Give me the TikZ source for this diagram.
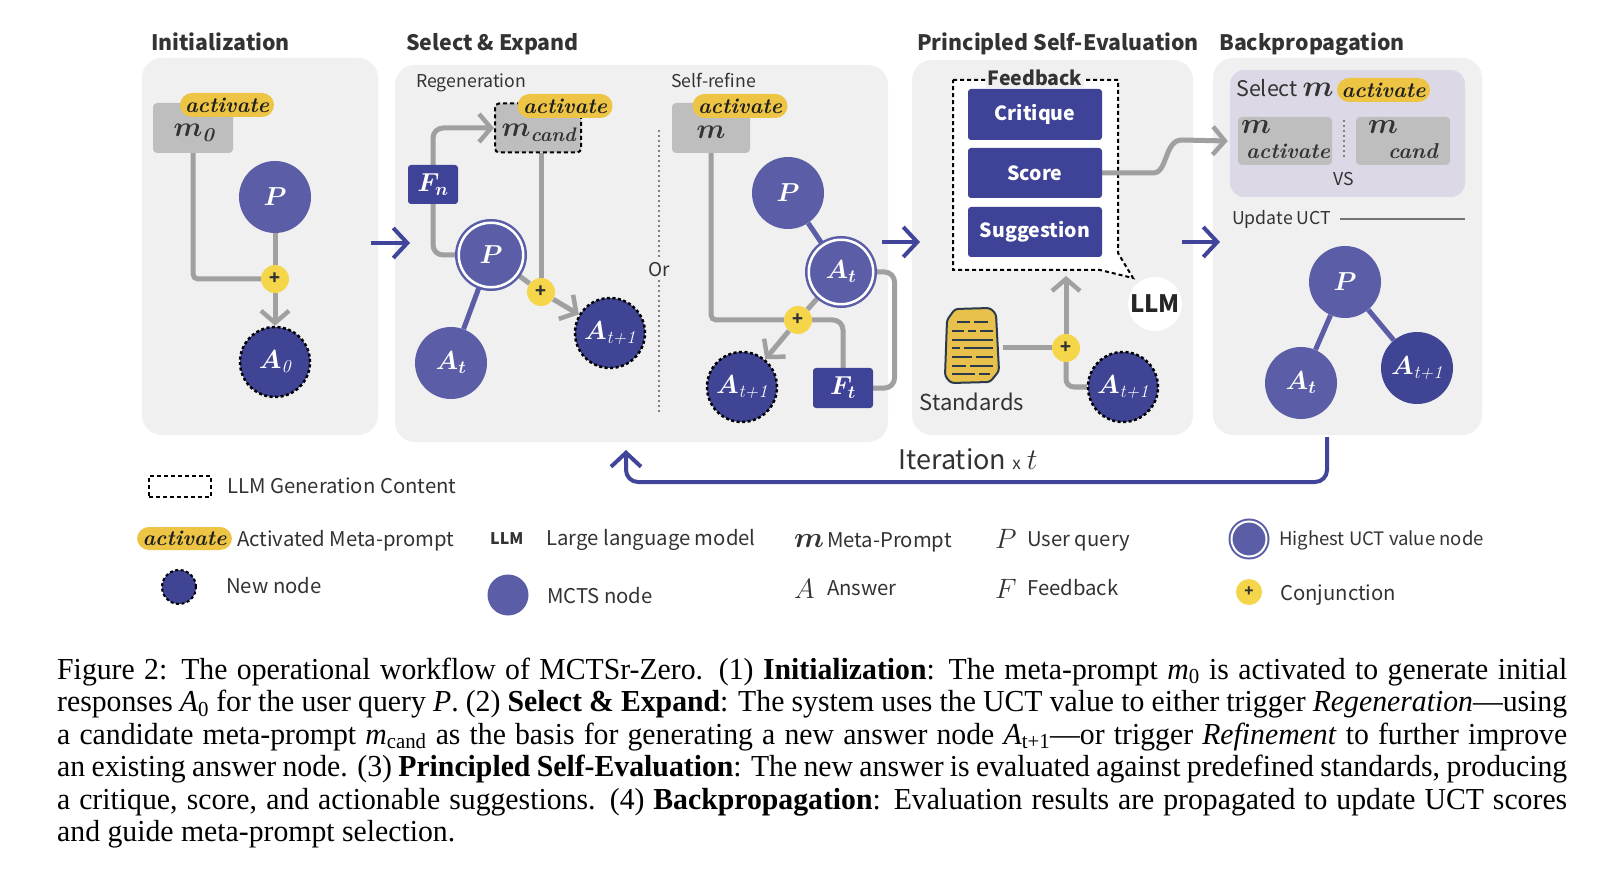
\RequirePackage{fix-cm}
\documentclass[tikz,border=0pt]{standalone}
\usepackage{amsmath}
\usepackage{fontspec}
\newfontfamily\ui{Noto Sans CJK SC}
\newfontfamily\capfont[FakeStretch=0.975]{Liberation Serif}
\usetikzlibrary{arrows.meta}
\pgfdeclarelayer{bg}\pgfdeclarelayer{conn}\pgfsetlayers{bg,conn,main}
\newcommand\fsz[1]{\fontsize{#1}{#1}\selectfont}
\newcommand\sbs[1]{\textsubscript{#1}}
\newcommand\bisub[1]{\text{\bfseries\itshape #1}}
\definecolor{panelbg}{HTML}{F0F0F0}
\definecolor{nodeblue}{HTML}{5B5EA6}
\definecolor{newblue}{HTML}{3F4494}
\definecolor{fbblue}{HTML}{3F4397}
\definecolor{grayline}{HTML}{A0A0A0}
\definecolor{mgray}{HTML}{BEBEBE}
\definecolor{pillY}{HTML}{EDC443}
\definecolor{plusY}{HTML}{F5D54A}
\definecolor{lav}{HTML}{DCD8E5}
\definecolor{txt}{HTML}{333333}
\definecolor{navy}{HTML}{40459A}
\definecolor{stdY}{HTML}{E8C14C}
\definecolor{stdD}{HTML}{2B3A4C}
\tikzset{
  panel/.style={fill=panelbg, rounded corners=20pt},
  mcts/.style={circle, fill=nodeblue, minimum size=72pt, inner sep=0pt, text=white, font=\fsz{26}\boldmath},
  best/.style={circle, fill=nodeblue, draw=nodeblue, double=white, double distance=2.5pt, line width=2.5pt, minimum size=64.5pt, inner sep=0pt, text=white, font=\fsz{26}\boldmath},
  newnode/.style={circle, fill=newblue, draw=black, dash pattern=on 3pt off 2.5pt, line width=2.5pt, minimum size=70pt, inner sep=0pt, text=white, font=\fsz{26}\boldmath},
  mbox/.style={rectangle, fill=mgray, rounded corners=4pt, inner sep=0pt},
  mlabel/.style={inner sep=0pt, anchor=base, text=txt, font=\fsz{28}\boldmath},
  pill/.style={rectangle, fill=pillY, rounded corners=12pt, minimum width=95pt, minimum height=24pt, inner sep=0pt, text=black!88, font=\fsz{21.5}\bfseries\itshape},
  plus/.style={circle, fill=plusY, minimum size=28pt, inner sep=0pt, text=txt, font=\ui\bfseries\fsz{18}},
  fbox/.style={rectangle, fill=fbblue, rounded corners=3pt, inner sep=0pt, text=white, font=\fsz{26}\boldmath},
  fbitem/.style={rectangle, fill=fbblue, rounded corners=3pt, minimum width=134pt, minimum height=50pt, inner sep=0pt, text=white, font=\ui\bfseries\fsz{19.5}},
  lbl/.style={inner sep=0pt, text=txt, font=\ui\fsz{17.7}},
  head/.style={inner sep=0pt, anchor=base west, text=txt, font=\ui\bfseries\fsz{21.3}},
  leg/.style={inner sep=0pt, anchor=base west, text=txt, font=\ui\fsz{20.3}},
  legm/.style={inner sep=0pt, anchor=base west, text=txt, font=\fsz{28}},
  gline/.style={draw=grayline, line width=5pt},
  garrow/.style={gline, -{Straight Barb[length=12pt, width=28pt, line width=4.5pt]}},
  bline/.style={draw=nodeblue, line width=5pt},
  nav/.style={draw=navy, line width=4pt, -{Straight Barb[length=14pt, width=30pt, line width=4pt]}},
  dotline/.style={draw=gray, line width=2pt, dash pattern=on 2pt off 3pt},
  dashbox/.style={draw=black, line width=2pt, dash pattern=on 4pt off 3pt},
  capline/.style={anchor=base west, inner sep=0pt, text=black, font=\capfont\fsz{30.5}},
}
\begin{document}
\begin{tikzpicture}[x=1pt,y=-1pt]
\useasboundingbox (0,0) rectangle (1622,882);
\begin{pgfonlayer}{bg}
\fill[white] (0,0) rectangle (1622,882);
\fill[panel] (142,58) rectangle (378,435);
\fill[panel] (395,65) rectangle (888,442);
\fill[panel] (912,60) rectangle (1193,435);
\fill[panel] (1213,58) rectangle (1482,435);
\fill[lav, rounded corners=14pt] (1230,70) rectangle (1465,197);
\filldraw[fill=white, dashbox] (953,80) -- (1118,80) -- (1118,253) -- (1133,278) -- (1100,270) -- (953,270) -- cycle;
\end{pgfonlayer}

% headings
\node[head] (h1) at (151,51) {Initialization};
\node[head] (h2) at (406,51) {Select \& Expand};
\node[head] (h3) at (917,51) {Principled Self-Evaluation};
\node[head] (h4) at (1219,51) {Backpropagation};

% ---------- Initialization
\node[mbox, minimum width=80pt, minimum height=50pt] (m0) at (193,128) {};
\node[mlabel] (m0l) at (194,137) {$m_{\bisub{0}}$};
\node[pill, minimum width=94pt] (act0) at (227,105) {activate};
\node[mcts] (p0) at (275,197) {$P$};
\node[plus] (c0) at (275,279) {+};
\node[newnode] (a0) at (275,362) {$A_{\textit{0}}$};
\coordinate (ar1s) at (371,243);
\coordinate (ar1e) at (410,243);

% ---------- Select & Expand : regeneration
\node[lbl, anchor=base west] (regen) at (416,88) {Regeneration};
\node[mbox, minimum width=86pt, minimum height=49pt, draw=black, line width=2pt, dash pattern=on 4pt off 3pt] (mc) at (538,128) {};
\node[mlabel] (mcl) at (539,137) {$m_{\bisub{cand}}$};
\node[pill] (actc) at (565,106) {activate};
\node[best] (p1) at (491,255) {$P$};
\node[mcts] (at1) at (451,363) {$A_t$};
\node[fbox, minimum width=50pt, minimum height=39pt] (fn) at (433,184.5) {$F_n$};
\node[plus] (c1) at (541,292) {+};
\node[newnode] (an1) at (610,333) {$A_{\textit{t+1}}$};
\coordinate (orT) at (659,130);
\coordinate (orB) at (659,413);
\node[lbl, fill=panelbg, inner sep=3pt, font=\ui\fsz{19}] (or) at (659,270) {Or};

% ---------- Select & Expand : self-refine
\node[lbl, anchor=base west] (sref) at (671,88) {Self-refine};
\node[mbox, minimum width=78pt, minimum height=50pt] (m2) at (711,128) {};
\node[mlabel] (m2l) at (711,139) {$m$};
\node[pill] (act2) at (740,106) {activate};
\node[mcts] (p2) at (788,193) {$P$};
\node[best] (at2) at (841,272) {$A_t$};
\node[plus] (c2) at (798,320) {+};
\node[newnode] (an2) at (742,387) {$A_{\textit{t+1}}$};
\node[fbox, minimum width=60pt, minimum height=40pt] (ft) at (843,388) {$F_t$};
\coordinate (ar2s) at (882,242);
\coordinate (ar2e) at (920,242);

% ---------- Principled Self-Evaluation
\node[inner sep=2pt, fill=panelbg, text=txt, font=\ui\bfseries\fsz{19.5}] (fbl) at (1035,78) {Feedback};
\node[fbitem, minimum height=51pt] (crit) at (1035,114.5) {Critique};
\node[fbitem] (score) at (1035,173) {Score};
\node[fbitem] (sugg) at (1035,232) {Suggestion};
\node[circle, fill=white, minimum size=54pt, inner sep=0pt, text=black!85, font=\ui\bfseries\fsz{24}] (llm) at (1155,304) {LLM};
\filldraw[fill=stdY, draw=stdD, line width=2pt, rounded corners=3pt] (947,320) -- (955,309) -- (990,308) -- (996,314) -- (999,371) -- (990,382) -- (951,383) -- (945,376) -- cycle;
\begin{scope}[stdD, line width=2.5pt]
\draw (957,322) -- (970,322) (974,322) -- (988,322);
\draw (952,331) -- (964,331) (968,331) -- (976,331) (980,331) -- (993,331);
\draw (952,340) -- (993,340);
\draw (952,348) -- (960,348) (964,348) -- (993,348);
\draw (952,357) -- (972,357) (976,357) -- (993,357);
\draw (952,366) -- (966,366) (970,366) -- (993,366);
\draw (952,374) -- (975,374) (979,374) -- (990,374);
\end{scope}
\coordinate (stdR) at (1003,348);
\node[lbl, font=\ui\fsz{22}, anchor=base] (std) at (972,410) {Standards};
\node[plus] (c3) at (1066,348) {+};
\node[newnode] (an3) at (1123,387) {$A_{\textit{t+1}}$};
\coordinate (fbb) at (1066,276);
\coordinate (ar3s) at (1182,242);
\coordinate (ar3e) at (1220,242);

% ---------- Backpropagation
\node[lbl, font=\ui\fsz{21.5}, anchor=base west] (selm) at (1236,97) {Select {\fsz{30}\boldmath$m$}};
\node[pill, minimum width=93pt] (act3) at (1383.5,90) {activate};
\node[mbox, minimum width=94pt, minimum height=48pt] (mact) at (1285,141) {};
\node[inner sep=0pt, anchor=base west, text=txt, font=\fsz{29}\boldmath] (mactm) at (1241,134) {$m$};
\node[inner sep=0pt, anchor=base west, text=txt, font=\fsz{21.5}\bfseries\itshape] (macts) at (1246,159) {activate};
\node[mbox, minimum width=94pt, minimum height=48pt] (mcand) at (1403,141) {};
\node[inner sep=0pt, anchor=base west, text=txt, font=\fsz{29}\boldmath] (mcandm) at (1368,134) {$m$};
\node[inner sep=0pt, anchor=base west, text=txt, font=\fsz{21.5}\bfseries\itshape] (mcands) at (1388,159) {cand};
\coordinate (sepT) at (1344,120);
\coordinate (sepB) at (1344,160);
\node[lbl] (vs) at (1344,179) {VS};
\node[lbl, anchor=base west] (upd) at (1232,225) {Update UCT};
\coordinate (updL) at (1340,219);
\coordinate (updR) at (1465,219);
\node[mcts] (p3) at (1345,282) {$P$};
\node[mcts] (at3) at (1301,383) {$A_t$};
\node[mcts, fill=newblue] (an4) at (1417,368) {$A_{\textit{t+1}}$};

% ---------- iteration loop
\coordinate (lpS) at (1327,437);
\coordinate (lpE) at (626,450);
\node[inner sep=0pt, anchor=base, text=txt, font=\ui\fsz{27}] (iter) at (968,469) {Iteration {\fsz{17}x} {\fsz{30}$t$}};

% ---------- legend
\node[dashbox, minimum width=62pt, minimum height=21pt, inner sep=0pt] (lgdash) at (180,486.5) {};
\node[leg] (lgdasht) at (227,493) {LLM Generation Content};
\node[pill, minimum height=23pt] (lgact) at (184.5,538.5) {activate};
\node[leg] (lgactt) at (237,546) {Activated Meta-prompt};
\node[newnode, minimum size=34pt, line width=2pt] (lgnew) at (179,587) {};
\node[leg] (lgnewt) at (226,593) {New node};
\node[inner sep=0pt, anchor=base west, text=txt, font=\ui\bfseries\fsz{16}] (lgllm) at (490,544) {LLM};
\node[leg] (lgllmt) at (546,545) {Large language model};
\node[mcts, minimum size=41pt] (lgmcts) at (508,595) {};
\node[leg] (lgmctst) at (547,603) {MCTS node};
\node[legm, font=\fsz{29}\boldmath] (lgm) at (794,547) {$m$};
\node[leg] (lgmt) at (827,547) {Meta-Prompt};
\node[legm] (lgp) at (995,548) {$P$};
\node[leg] (lgpt) at (1027,546) {User query};
\node[legm] (lga) at (794,598) {$A$};
\node[leg] (lgat) at (827,595) {Answer};
\node[legm] (lgf) at (995,598) {$F$};
\node[leg] (lgft) at (1027,595) {Feedback};
\node[best, minimum size=35pt, line width=2pt, double distance=2pt] (lgbest) at (1249,539) {};
\node[leg, font=\ui\fsz{18.5}] (lgbestt) at (1279,545) {Highest UCT value node};
\node[plus, minimum size=26pt, font=\ui\bfseries\fsz{15}] (lgplus) at (1249,592) {+};
\node[leg] (lgplust) at (1280,600) {Conjunction};

% ---------- caption
\node[capline] (cap1) at (57,679) {\makebox[1510pt][s]{Figure 2: The operational workflow of MCTSr-Zero. (1) \textbf{Initialization}: The meta-prompt \textit{m}\sbs{0} is activated to generate initial}};
\node[capline] (cap2) at (57,711.5) {\makebox[1510pt][s]{responses \textit{A}\sbs{0} for the user query \textit{P}. (2) \textbf{Select \& Expand}: The system uses the UCT value to either trigger \textit{Regeneration}—using}};
\node[capline] (cap3) at (57,744) {\makebox[1510pt][s]{a candidate meta-prompt \textit{m}\sbs{cand} as the basis for generating a new answer node \textit{A}\sbs{t+1}—or trigger \textit{Refinement} to further improve}};
\node[capline] (cap4) at (57,776.5) {\makebox[1510pt][s]{an existing answer node. (3) \textbf{Principled Self-Evaluation}: The new answer is evaluated against predefined standards, producing}};
\node[capline] (cap5) at (57,809) {\makebox[1510pt][s]{a critique, score, and actionable suggestions. (4) \textbf{Backpropagation}: Evaluation results are propagated to update UCT scores}};
\node[capline] (cap6) at (57,841.5) {and guide meta-prompt selection.};

% ---------- connectors
\begin{pgfonlayer}{conn}
\draw[gline, rounded corners=5pt] (m0.south) |- (c0);
\draw[gline] (p0) -- (c0);
\draw[garrow] (c0) -- (a0);
\draw[nav] (ar1s) -- (ar1e);
\draw[bline] (p1) -- (at1);
\draw[gline] (p1) -- (c1);
\draw[gline] (mc.south -| c1) -- (c1);
\draw[garrow] (c1) -- (an1);
\draw[garrow, rounded corners=10pt] (p1.west) -| (fn.center) |- (mc.west);
\draw[dotline] (orT) -- (orB);
\draw[bline] (p2) -- (at2);
\draw[gline] (at2) -- (c2);
\draw[gline, rounded corners=5pt] (m2.south) |- (c2);
\draw[garrow] (c2) -- (an2);
\draw[gline, rounded corners=10pt] (c2) -| (ft.north);
\draw[gline, rounded corners=10pt] (at2.east) -- ++(20,0) |- (ft.east);
\draw[nav] (ar2s) -- (ar2e);
\draw[gline] (stdR) -- (c3);
\draw[garrow] (c3) -- (fbb);
\draw[gline, rounded corners=8pt] (c3) |- (an3);
\draw[garrow] (score.east) -- (1153,173) .. controls (1168,173) and (1164,140) .. (1182,140) -- ([xshift=-10pt]mact.west);
\draw[nav] (ar3s) -- (ar3e);
\draw[dotline] (sepT) -- (sepB);
\draw[draw=gray!90!black, line width=2pt] (updL) -- (updR);
\draw[bline] (p3) -- (at3);
\draw[bline] (p3) -- (an4);
\draw[nav, rounded corners=12pt] (lpS) -- (1327,482) -| (lpE);
\end{pgfonlayer}
\end{tikzpicture}
\end{document}
